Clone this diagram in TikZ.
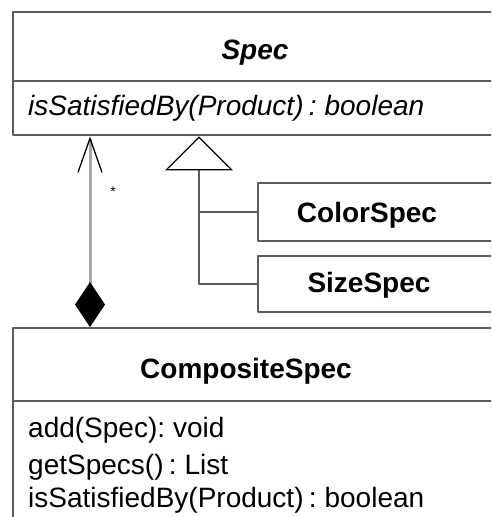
\documentclass[tikz,border=0pt]{standalone}
\usepackage{fontspec}
\setmainfont{Liberation Sans}
\usetikzlibrary{positioning,arrows.meta}
\definecolor{boxgray}{HTML}{5C5C5C}
\definecolor{linkgray}{HTML}{A8A8A8}
\newcommand\opfont{\fontsize{28}{33}\selectfont\spaceskip=0.19em\relax}
\tikzset{
	umlbox/.style={draw=boxgray, line width=2.4pt, rectangle, anchor=north west, inner sep=0pt},
	divider/.style={draw=boxgray, line width=2.4pt},
	classname/.style={font=\fontsize{28}{33}\selectfont\bfseries, anchor=base, inner sep=0pt},
	oper/.style={font=\opfont, anchor=base west, inner sep=0pt},
	compline/.style={draw=linkgray, line width=3pt},
	genline/.style={draw=boxgray, line width=2.4pt},
}
\begin{document}
\begin{tikzpicture}[x=1pt, y=-1pt, line join = round]
	\clip (0,0) rectangle (491,517);
	\fill[white] (0,0) rectangle (491,517);
	% classes
	\node[umlbox, minimum width=488pt, minimum height=123pt] (spec) at (12,11) {};
	\node[umlbox, minimum width=243pt, minimum height=58pt] (colorspec) at (257,182) {};
	\node[umlbox, minimum width=243pt, minimum height=56pt] (sizespec) at (257,255) {};
	\node[umlbox, minimum width=488pt, minimum height=210pt] (composite) at (12,327) {};
	\draw[divider] (12,81) -- (500,81);
	\draw[divider] (12,401) -- (500,401);
	% texts
	\node[classname, font=\fontsize{28}{33}\selectfont\bfseries\itshape] (spectitle) at (255,59) {Spec};
	\node[oper, font=\opfont\itshape] (specop) at (28,115) {isSatisfiedBy(Product) : boolean};
	\node[classname] (colortitle) at (367,222) {ColorSpec};
	\node[classname] (sizetitle) at (369,292) {SizeSpec};
	\node[classname] (comptitle) at (246,378) {CompositeSpec};
	\node[oper] (opadd) at (28,437) {add(Spec): void};
	\node[oper] (opget) at (28,474) {getSpecs() : List};
	\node[oper] (opsat) at (28,507) {isSatisfiedBy(Product) : boolean};
	\node[font=\fontsize{14}{16}\selectfont, inner sep=0pt] (mult) at (113,192) {*};
	% composition
	\draw[compline, {Diamond[length=45pt, width=30pt, color=black]}-{Straight Barb[length=34pt, width=24pt, line width=1.3pt, color=black]}]
		([xshift=78pt]composite.north west) -- ([xshift=78pt]spec.south west);
	% generalization
	\coordinate (gen) at ([xshift=187pt]spec.south west);
	\draw[genline, -{Triangle[open, length=34pt, width=68pt, line width=1.2pt, color=black]}] (sizespec.west) -| (gen);
	\draw[genline] (colorspec.west) -- (colorspec.west -| gen);
\end{tikzpicture}
\end{document}
